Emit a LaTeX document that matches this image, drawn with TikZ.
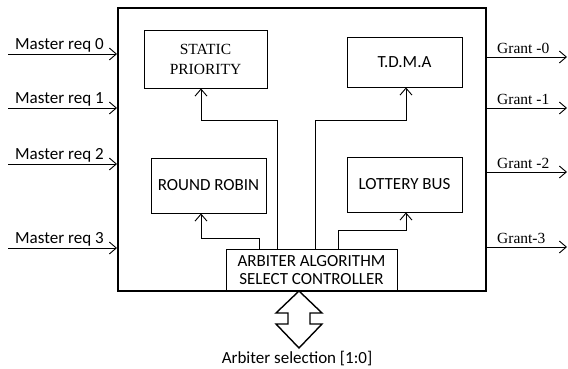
\documentclass[tikz,border=0pt]{standalone}
\usepackage{fontspec}
\setmainfont{Liberation Serif}
\newfontfamily\calfont{Carlito}
\usetikzlibrary{arrows.meta}
\begin{document}
\begin{tikzpicture}[x=1pt,y=-1pt,
  box/.style={draw,line width=0.9pt,inner sep=0pt,text=black},
  arr/.style={line width=0.9pt,-{Straight Barb[length=7pt,width=12pt,line width=0.9pt]}},
  sanslbl/.style={font=\calfont\fontsize{17}{19}\selectfont,text=black,inner sep=0pt},
  seriflbl/.style={font=\fontsize{15.5}{17}\selectfont,text=black,inner sep=0pt}]
\useasboundingbox (0,0) rectangle (568,369);
% main box
\node[draw,line width=2pt,minimum width=368pt,minimum height=283pt,inner sep=0pt] (main) at (302,149.5) {};
% inner boxes
\node[box,minimum width=123pt,minimum height=58pt,align=center,font=\fontsize{15.5}{20}\selectfont] (stat) at (205.5,59) {STATIC\\PRIORITY};
\node[box,minimum width=115pt,minimum height=55pt,font=\calfont\fontsize{17}{19}\selectfont] (rr) at (208.5,185.5) {ROUND ROBIN};
\node[box,minimum width=115pt,minimum height=50pt,font=\calfont\fontsize{17}{19}\selectfont] (tdma) at (404.5,62) {\raisebox{-4pt}{T.D.M.A}};
\node[box,minimum width=115pt,minimum height=55pt,font=\calfont\fontsize{17}{19}\selectfont] (lot) at (404.5,184.5) {\raisebox{-3pt}{LOTTERY BUS}};
\node[box,minimum width=171pt,minimum height=42pt,align=center,font=\calfont\fontsize{17}{21}\selectfont] (arb) at (311.5,270) {\raisebox{-3pt}{ARBITER ALGORITHM}\\SELECT CONTROLLER};
% internal connectors
\draw[arr] ([xshift=52pt]arb.north west) -- ++(0,-128) -| ([xshift=-4.5pt]stat.south);
\draw[arr] ([xshift=90pt]arb.north west) -- ++(0,-128) -| ([xshift=1.5pt]tdma.south);
\draw[arr] ([xshift=34pt]arb.north west) -- ++(0,-10) -| ([xshift=-7.5pt]rr.south);
\draw[arr] ([xshift=113pt]arb.north west) -- ++(0,-18) -| ([xshift=1.5pt]lot.south);
% inputs
\coordinate (in0) at (8,54);
\coordinate (in1) at (8,108);
\coordinate (in2) at (8,164);
\coordinate (in3) at (8,248);
\foreach \i in {0,1,2,3}{
  \draw[arr] (in\i) -- (in\i -| main.west);
  \node[sanslbl,anchor=south west] (lin\i) at ([xshift=7pt,yshift=2pt]in\i) {Master req \i};
}
% outputs
\coordinate (g0) at (567,57);
\coordinate (g1) at (567,108);
\coordinate (g2) at (567,172);
\coordinate (g3) at (567,247);
\foreach \i/\t in {0/Grant -0,1/Grant -1,2/Grant -2,3/Grant-3}{
  \draw[arr] (g\i -| main.east) -- (g\i);
  \node[seriflbl,anchor=south west] (lg\i) at ([xshift=-70pt,yshift=3pt]g\i) {\t};
}
% double arrow
\draw[line width=1.4pt,line join=miter,fill=white] (299,291) -- (322,313) -- (310,313) -- (310,324) -- (322,324) -- (299,348) -- (276,324) -- (288,324) -- (288,313) -- (276,313) -- cycle;
\node[sanslbl] (sel) at (297,359) {Arbiter selection [1:0]};
\end{tikzpicture}
\end{document}
